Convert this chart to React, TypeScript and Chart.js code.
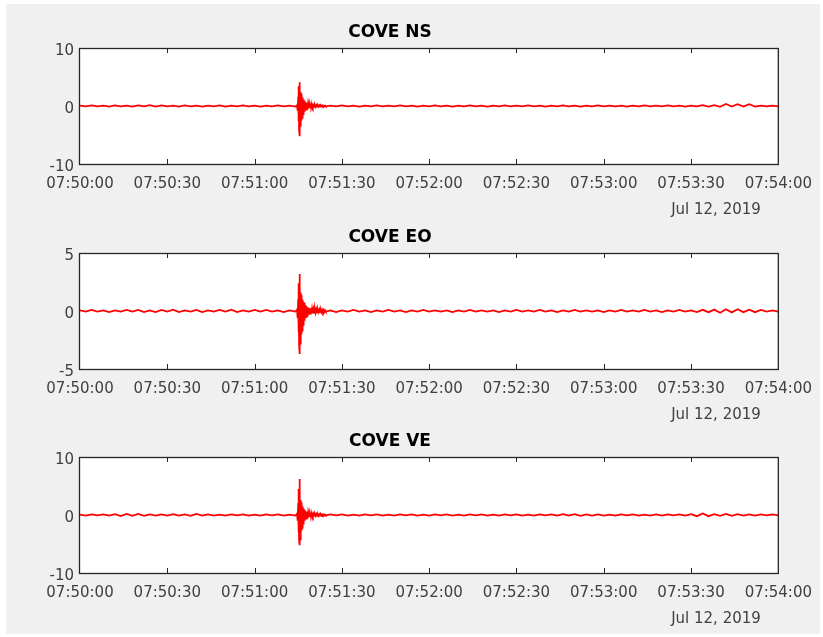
import React, { useEffect, useRef } from "react";
import { Chart, registerables } from "chart.js";

Chart.register(...registerables);

// ---- sample times (seconds after 07:50:00) ----
const preTimes = [
  0, 2, 4, 6, 8, 10, 12, 14, 16, 18,
  20, 22, 24, 26, 28, 30, 32, 34, 36, 38,
  40, 42, 44, 46, 48, 50, 52, 54, 56, 58,
  60, 62, 64, 66, 68, 70, 72, 74,
];
const fineTimes = [
  74.6, 74.7, 74.8, 74.9, 75, 75.1, 75.2, 75.3, 75.4, 75.5,
  75.6, 75.7, 75.8, 75.9, 76, 76.1, 76.2, 76.3, 76.4, 76.5,
  76.6, 76.7, 76.8, 76.9, 77, 77.1, 77.2, 77.3, 77.4, 77.5,
  77.6, 77.7, 77.8, 77.9, 78, 78.1, 78.2, 78.3, 78.4, 78.5,
  78.6, 78.7, 78.8, 78.9, 79, 79.1, 79.2, 79.3, 79.4, 79.5,
];
const coarseTimes = [
  79.75, 80, 80.25, 80.5, 80.75, 81, 81.25, 81.5, 81.75, 82,
  82.25, 82.5, 82.75, 83, 83.25, 83.5, 83.75, 84, 84.25, 84.5,
];
const postTimes = [
  86, 88, 90, 92, 94, 96, 98, 100, 102, 104,
  106, 108, 110, 112, 114, 116, 118, 120, 122, 124,
  126, 128, 130, 132, 134, 136, 138, 140, 142, 144,
  146, 148, 150, 152, 154, 156, 158, 160, 162, 164,
  166, 168, 170, 172, 174, 176, 178, 180, 182, 184,
  186, 188, 190, 192, 194, 196, 198, 200, 202, 204,
  206, 208, 210, 212, 214, 216, 218, 220, 222, 224,
  226, 228, 230, 232, 234, 236, 238, 240,
];
const seconds = [...preTimes, ...fineTimes, ...coarseTimes, ...postTimes];

// ---- COVE NS ----
const nsValues = [
  // pre
  0.05, -0.05, 0.1, -0.05, 0.05, -0.1, 0.1, -0.05, 0.05, -0.1,
  0.1, -0.05, 0.15, -0.1, 0.1, -0.05, 0.05, -0.1, 0.1, -0.05,
  0.05, -0.1, 0.05, -0.05, 0.1, -0.1, 0.05, -0.05, 0.1, -0.05,
  0.05, -0.1, 0.05, -0.05, 0.1, -0.05, 0.05, -0.1,
  // fine
  0.1, -0.2, 0.4, -0.8, 1.6, -2.6, 3.4, -4.2, 4.1, -5.2,
  2.6, -3.4, 2.4, -3.0, 2.1, -2.5, 1.8, -2.0, 1.5, -1.7,
  1.3, -1.4, 1.1, -1.2, 0.9, -1.0, 0.8, -0.8, 0.7, -0.7,
  0.6, -0.6, 0.5, -0.5, 0.45, -0.45, 0.4, -0.4, 0.35, -0.35,
  0.3, -0.3, 0.3, -0.3, 0.25, -0.25, 0.25, -0.2, 0.2, -0.2,
  // coarse
  0.2, -0.2, 0.15, -0.15, 0.15, -0.15, 0.15, -0.1, 0.1, -0.1,
  0.1, -0.1, 0.1, -0.05, 0.1, -0.05, 0.05, -0.05, 0.05, -0.05,
  // post
  0.05, -0.05, 0.1, -0.05, 0.05, -0.1, 0.05, -0.05, 0.1, -0.05,
  0.05, -0.05, 0.1, -0.05, 0.05, -0.1, 0.05, -0.05, 0.1, -0.05,
  0.05, -0.1, 0.05, -0.05, 0.1, -0.05, 0.05, -0.1, 0.05, -0.05,
  0.1, -0.05, 0.05, -0.05, 0.1, -0.05, 0.05, -0.1, 0.05, -0.05,
  0.1, -0.05, 0.05, -0.1, 0.05, -0.05, 0.1, -0.05, 0.05, -0.05,
  0.05, -0.1, 0.05, -0.05, 0.1, -0.05, 0.05, -0.05, 0.1, -0.05,
  0.05, -0.1, 0.05, -0.05, 0.15, -0.1, 0.15, -0.15, 0.35, -0.1,
  0.3, -0.1, 0.3, -0.1, 0.05, -0.05, 0.05, -0.05,
];

// ---- COVE EO ----
const eoValues = [
  // pre
  0.05, -0.05, 0.1, -0.05, 0.05, -0.1, 0.05, -0.05, 0.1, -0.05,
  0.1, -0.1, 0.05, -0.1, 0.1, -0.05, 0.12, -0.1, 0.05, -0.05,
  0.1, -0.1, 0.05, -0.05, 0.1, -0.05, 0.12, -0.1, 0.05, -0.05,
  0.1, -0.05, 0.1, -0.05, 0.05, -0.1, 0.05, -0.05,
  // fine
  0.1, -0.15, 0.3, -0.6, 1.0, -1.8, 2.4, -2.9, 3.2, -3.7,
  2.0, -2.8, 1.6, -2.4, 1.4, -2.0, 1.2, -1.7, 1.0, -1.4,
  0.9, -1.2, 0.8, -1.0, 0.7, -0.85, 0.6, -0.7, 0.5, -0.6,
  0.45, -0.5, 0.4, -0.45, 0.35, -0.4, 0.3, -0.35, 0.3, -0.3,
  0.25, -0.3, 0.25, -0.25, 0.2, -0.25, 0.2, -0.2, 0.2, -0.2,
  // coarse
  0.2, -0.2, 0.15, -0.15, 0.15, -0.15, 0.12, -0.12, 0.12, -0.1,
  0.1, -0.1, 0.1, -0.1, 0.08, -0.08, 0.08, -0.08, 0.05, -0.05,
  // post
  0.05, -0.1, 0.05, -0.05, 0.1, -0.05, 0.05, -0.1, 0.05, -0.05,
  0.1, -0.05, 0.05, -0.1, 0.05, -0.05, 0.1, -0.05, 0.05, -0.05,
  0.05, -0.1, 0.05, -0.05, 0.1, -0.05, 0.05, -0.05, 0.05, -0.1,
  0.05, -0.05, 0.1, -0.05, 0.05, -0.05, 0.1, -0.05, 0.05, -0.1,
  0.05, -0.05, 0.1, -0.05, 0.05, -0.05, 0.05, -0.1, 0.05, -0.05,
  0.1, -0.05, 0.05, -0.05, 0.1, -0.05, 0.05, -0.1, 0.05, -0.05,
  0.1, -0.05, 0.05, -0.1, 0.1, -0.1, 0.12, -0.15, 0.15, -0.12,
  0.15, -0.1, 0.12, -0.1, 0.1, -0.05, 0.05, -0.05,
];

// ---- COVE VE ----
const veValues = [
  // pre
  0.05, -0.1, 0.1, -0.05, 0.1, -0.1, 0.15, -0.2, 0.2, -0.15,
  0.2, -0.15, 0.1, -0.1, 0.1, -0.1, 0.15, -0.1, 0.1, -0.15,
  0.2, -0.1, 0.1, -0.1, 0.05, -0.1, 0.1, -0.05, 0.1, -0.1,
  0.05, -0.1, 0.1, -0.05, 0.1, -0.1, 0.05, -0.1,
  // fine
  0.2, -0.3, 0.5, -1.0, 2.0, -3.0, 4.5, -4.4, 6.2, -5.2,
  3.0, -4.2, 2.6, -3.4, 2.2, -2.7, 1.8, -2.2, 1.5, -1.8,
  1.3, -1.5, 1.1, -1.2, 0.9, -1.0, 0.8, -0.85, 0.7, -0.7,
  0.6, -0.6, 0.5, -0.5, 0.45, -0.45, 0.4, -0.4, 0.35, -0.35,
  0.3, -0.3, 0.3, -0.3, 0.25, -0.25, 0.25, -0.2, 0.2, -0.2,
  // coarse
  0.2, -0.2, 0.2, -0.15, 0.15, -0.15, 0.15, -0.15, 0.1, -0.15,
  0.1, -0.1, 0.1, -0.1, 0.1, -0.05, 0.1, -0.05, 0.05, -0.05,
  // post
  0.1, -0.05, 0.1, -0.1, 0.05, -0.1, 0.1, -0.05, 0.1, -0.1,
  0.05, -0.1, 0.1, -0.05, 0.1, -0.1, 0.05, -0.1, 0.1, -0.05,
  0.1, -0.1, 0.05, -0.1, 0.1, -0.05, 0.1, -0.1, 0.05, -0.1,
  0.1, -0.05, 0.1, -0.1, 0.05, -0.1, 0.1, -0.05, 0.1, -0.1,
  0.15, -0.1, 0.15, -0.15, 0.1, -0.1, 0.1, -0.1, 0.05, -0.1,
  0.1, -0.05, 0.1, -0.1, 0.05, -0.1, 0.1, -0.1, 0.1, -0.05,
  0.1, -0.1, 0.15, -0.2, 0.25, -0.2, 0.15, -0.15, 0.2, -0.15,
  0.15, -0.1, 0.1, -0.1, 0.1, -0.05, 0.1, -0.05,
];

// ---- axes text ----
const tickSeconds = [0, 30, 60, 90, 120, 150, 180, 210, 240];
const timeLabels = [
  "07:50:00", "07:50:30", "07:51:00", "07:51:30", "07:52:00",
  "07:52:30", "07:53:00", "07:53:30", "07:54:00",
];
const dateLabel = "Jul 12, 2019";
const titles = ["COVE NS", "COVE EO", "COVE VE"];
const nsYTicks = [-10, 0, 10];
const eoYTicks = [-5, 0, 5];
const veYTicks = [-10, 0, 10];

const FONT = "'DejaVu Sans', 'Liberation Sans', sans-serif";
const AXIS_COLOR = "#262626";
const LABEL_COLOR = "#404040";
const CANVAS_W = 823;
const CANVAS_H = 228;

const framePlugin = {
  id: "matlabFrame",
  beforeDraw(chart: any) {
    const { ctx, chartArea: a } = chart;
    ctx.save();
    ctx.fillStyle = "#ffffff";
    ctx.fillRect(a.left, a.top, a.right - a.left, a.bottom - a.top);
    ctx.restore();
  },
  afterDraw(chart: any) {
    const { ctx, chartArea: a, scales } = chart;
    ctx.save();
    ctx.strokeStyle = AXIS_COLOR;
    ctx.lineWidth = 1.3;
    ctx.strokeRect(a.left - 0.5, a.top + 0.5, a.right - a.left + 0.5, a.bottom - a.top);
    ctx.lineWidth = 1;
    ctx.beginPath();
    tickSeconds.forEach((s, i) => {
      if (i === 0 || i === tickSeconds.length - 1) return;
      const x = Math.round(scales.x.getPixelForValue(s)) + 0.5;
      ctx.moveTo(x, a.top);
      ctx.lineTo(x, a.top + 5);
      ctx.moveTo(x, a.bottom);
      ctx.lineTo(x, a.bottom - 5);
    });
    ctx.stroke();
    ctx.fillStyle = LABEL_COLOR;
    ctx.font = `15px ${FONT}`;
    ctx.textAlign = "center";
    ctx.textBaseline = "middle";
    ctx.fillText(dateLabel, 716, a.bottom + 46);
    ctx.restore();
  },
};

type PanelProps = {
  top: number;
  title: string;
  values: number[];
  yTicks: number[];
};

function Panel({ top, title, values, yTicks }: PanelProps) {
  const ref = useRef<HTMLCanvasElement | null>(null);
  useEffect(() => {
    if (!ref.current) return;
    const data = seconds.map((t, i) => ({ x: t, y: values[i] }));
    const chart = new Chart(ref.current, {
      type: "line",
      data: {
        datasets: [
          {
            data,
            borderColor: "#ff0000",
            borderWidth: 1.8,
            pointRadius: 0,
            tension: 0,
            fill: false,
          },
        ],
      },
      options: {
        animation: false,
        responsive: false,
        devicePixelRatio: 1,
        layout: { padding: { left: 0, right: 43, top: 0, bottom: 0 } },
        plugins: {
          legend: { display: false },
          tooltip: { enabled: false },
          title: {
            display: true,
            text: title,
            color: "#000000",
            font: { family: FONT, size: 17, weight: "bold" },
            padding: { top: 22.3, bottom: 5.3 },
          },
        },
        scales: {
          x: {
            type: "linear",
            min: tickSeconds[0],
            max: tickSeconds[tickSeconds.length - 1],
            grid: { display: false, drawTicks: false, tickLength: 0 },
            border: { display: false },
            afterBuildTicks: (s: any) => {
              s.ticks = tickSeconds.map((v) => ({ value: v }));
            },
            afterFit: (s: any) => {
              s.height = CANVAS_H - 164;
            },
            ticks: {
              autoSkip: false,
              maxRotation: 0,
              minRotation: 0,
              padding: 11,
              color: LABEL_COLOR,
              font: { family: FONT, size: 15 },
              callback: (v: any) => {
                const i = tickSeconds.indexOf(Number(v));
                return i >= 0 ? timeLabels[i] : "";
              },
            },
          },
          y: {
            type: "linear",
            min: yTicks[0],
            max: yTicks[yTicks.length - 1],
            grid: { display: false, drawTicks: false, tickLength: 0 },
            border: { display: false },
            afterBuildTicks: (s: any) => {
              s.ticks = yTicks.map((v) => ({ value: v }));
            },
            afterFit: (s: any) => {
              s.width = 80;
            },
            ticks: {
              padding: 6,
              labelOffset: 3,
              color: LABEL_COLOR,
              font: { family: FONT, size: 15 },
              callback: (v: any) => String(v),
            },
          },
        },
      },
      plugins: [framePlugin],
    });
    return () => chart.destroy();
  }, [title, values, yTicks]);

  return (
    <canvas
      ref={ref}
      width={CANVAS_W}
      height={CANVAS_H}
      style={{
        position: "absolute",
        left: 0,
        top,
        width: CANVAS_W,
        height: CANVAS_H,
        display: "block",
      }}
    />
  );
}

export default function App() {
  return (
    <div
      style={{
        position: "absolute",
        left: 0,
        top: 0,
        width: 823,
        height: 637,
        background: "#ffffff",
        overflow: "hidden",
      }}
    >
      <div
        style={{
          position: "absolute",
          left: 6,
          top: 4,
          width: 814,
          height: 630,
          background: "#f0f0f0",
        }}
      />
      <Panel top={0} title={titles[0]} values={nsValues} yTicks={nsYTicks} />
      <Panel top={205} title={titles[1]} values={eoValues} yTicks={eoYTicks} />
      <Panel top={409} title={titles[2]} values={veValues} yTicks={veYTicks} />
    </div>
  );
}
